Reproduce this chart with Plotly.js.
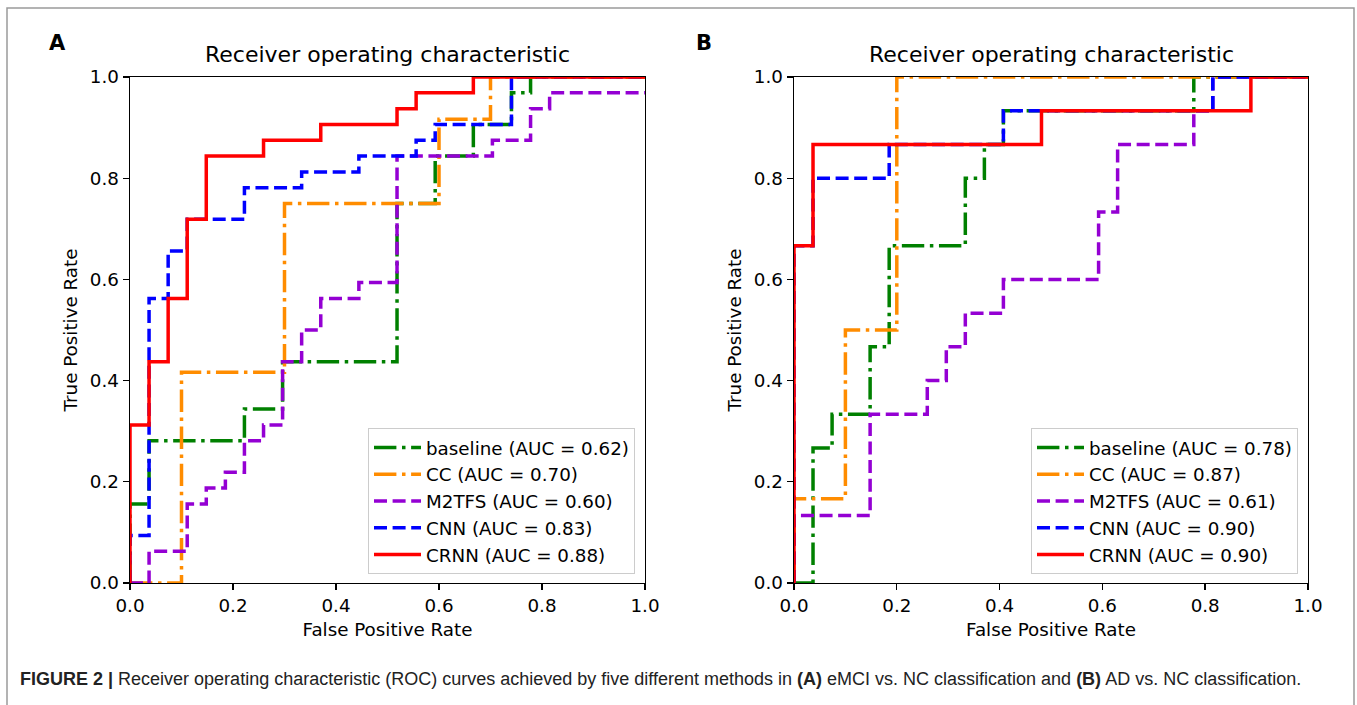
<!DOCTYPE html>
<html>
<head>
<meta charset="utf-8">
<script src="https://cdn.plot.ly/plotly-3.0.1.min.js"></script>
<style>
  html, body { margin: 0; padding: 0; background: #ffffff; }
  #fig { width: 1357px; height: 705px; }
</style>
</head>
<body>
<div id="fig"></div>
<script>
// ROC operating points (false positive rate, true positive rate), panel A: eMCI vs. NC
const baselineA_fpr = [0, 0, 0.037, 0.037, 0.2222, 0.2222, 0.2963, 0.2963, 0.5185, 0.5185, 0.5926, 0.5926, 0.6667, 0.6667, 0.7407, 0.7407, 0.7778, 0.7778, 1];
const baselineA_tpr = [0, 0.1563, 0.1563, 0.2813, 0.2813, 0.3438, 0.3438, 0.4375, 0.4375, 0.75, 0.75, 0.8438, 0.8438, 0.9063, 0.9063, 0.9688, 0.9688, 1, 1];
const ccA_fpr = [0, 0.1, 0.1, 0.3, 0.3, 0.6, 0.6, 0.7, 0.7, 1];
const ccA_tpr = [0, 0, 0.4167, 0.4167, 0.75, 0.75, 0.9167, 0.9167, 1, 1];
const m2tfsA_fpr = [0, 0.037, 0.037, 0.1111, 0.1111, 0.1481, 0.1481, 0.1852, 0.1852, 0.2222, 0.2222, 0.2593, 0.2593, 0.2963, 0.2963, 0.3333, 0.3333, 0.3704, 0.3704, 0.4444, 0.4444, 0.5185, 0.5185, 0.7037, 0.7037, 0.7778, 0.7778, 0.8148, 0.8148, 1];
const m2tfsA_tpr = [0, 0, 0.0625, 0.0625, 0.1563, 0.1563, 0.1875, 0.1875, 0.2188, 0.2188, 0.2813, 0.2813, 0.3125, 0.3125, 0.4375, 0.4375, 0.5, 0.5, 0.5625, 0.5625, 0.5938, 0.5938, 0.8438, 0.8438, 0.875, 0.875, 0.9375, 0.9375, 0.9688, 0.9688];
const cnnA_fpr = [0, 0, 0.037, 0.037, 0.0741, 0.0741, 0.1111, 0.1111, 0.2222, 0.2222, 0.3333, 0.3333, 0.4444, 0.4444, 0.5556, 0.5556, 0.5926, 0.5926, 0.7407, 0.7407, 1];
const cnnA_tpr = [0, 0.0938, 0.0938, 0.5625, 0.5625, 0.6563, 0.6563, 0.7188, 0.7188, 0.7813, 0.7813, 0.8125, 0.8125, 0.8438, 0.8438, 0.875, 0.875, 0.9063, 0.9063, 1, 1];
const crnnA_fpr = [0, 0, 0.037, 0.037, 0.0741, 0.0741, 0.1111, 0.1111, 0.1481, 0.1481, 0.2593, 0.2593, 0.3704, 0.3704, 0.5185, 0.5185, 0.5556, 0.5556, 0.6667, 0.6667, 1];
const crnnA_tpr = [0, 0.3125, 0.3125, 0.4375, 0.4375, 0.5625, 0.5625, 0.7188, 0.7188, 0.8438, 0.8438, 0.875, 0.875, 0.9063, 0.9063, 0.9375, 0.9375, 0.9688, 0.9688, 1, 1];

// Panel B: AD vs. NC
const baselineB_fpr = [0, 0.037, 0.037, 0.0741, 0.0741, 0.1481, 0.1481, 0.1852, 0.1852, 0.3333, 0.3333, 0.3704, 0.3704, 0.4074, 0.4074, 0.7778, 0.7778, 1];
const baselineB_tpr = [0, 0, 0.2667, 0.2667, 0.3333, 0.3333, 0.4667, 0.4667, 0.6667, 0.6667, 0.8, 0.8, 0.8667, 0.8667, 0.9333, 0.9333, 1, 1];
const ccB_fpr = [0, 0, 0.1, 0.1, 0.2, 0.2, 1];
const ccB_tpr = [0, 0.1667, 0.1667, 0.5, 0.5, 1, 1];
const m2tfsB_fpr = [0, 0, 0.1481, 0.1481, 0.2593, 0.2593, 0.2963, 0.2963, 0.3333, 0.3333, 0.4074, 0.4074, 0.5926, 0.5926, 0.6296, 0.6296, 0.7778, 0.7778, 0.8148, 0.8148, 1];
const m2tfsB_tpr = [0, 0.1333, 0.1333, 0.3333, 0.3333, 0.4, 0.4, 0.4667, 0.4667, 0.5333, 0.5333, 0.6, 0.6, 0.7333, 0.7333, 0.8667, 0.8667, 0.9333, 0.9333, 1, 1];
const cnnB_fpr = [0, 0, 0.037, 0.037, 0.1852, 0.1852, 0.4074, 0.4074, 0.8148, 0.8148, 1];
const cnnB_tpr = [0, 0.6667, 0.6667, 0.8, 0.8, 0.8667, 0.8667, 0.9333, 0.9333, 1, 1];
const crnnB_fpr = [0, 0, 0.037, 0.037, 0.4815, 0.4815, 0.8889, 0.8889, 1];
const crnnB_tpr = [0, 0.6667, 0.6667, 0.8667, 0.8667, 0.9333, 0.9333, 1, 1];

// Legend labels
const methodNames = ['baseline', 'CC', 'M2TFS', 'CNN', 'CRNN'];
const aucA = ['0.62', '0.70', '0.60', '0.83', '0.88'];
const aucB = ['0.78', '0.87', '0.61', '0.90', '0.90'];
const tickVals = [0, 0.2, 0.4, 0.6, 0.8, 1.0];
const tickText = ['0.0', '0.2', '0.4', '0.6', '0.8', '1.0'];

// Line styles per method
const DASHDOT = '22.4px,5.6px,3.5px,5.6px';
const DASHED = '13px,5.6px';
const styles = [
  { color: 'green', dash: DASHDOT },
  { color: 'darkorange', dash: DASHDOT },
  { color: 'darkviolet', dash: DASHED },
  { color: 'blue', dash: DASHED },
  { color: 'red', dash: 'solid' }
];

const W = 1357, H = 705;
const px = v => v / W;
const py = v => 1 - v / H;
const FONT = 'DejaVu Sans, Verdana, sans-serif';
const FS = 18.3;

const seriesA = [[baselineA_fpr, baselineA_tpr], [ccA_fpr, ccA_tpr], [m2tfsA_fpr, m2tfsA_tpr], [cnnA_fpr, cnnA_tpr], [crnnA_fpr, crnnA_tpr]];
const seriesB = [[baselineB_fpr, baselineB_tpr], [ccB_fpr, ccB_tpr], [m2tfsB_fpr, m2tfsB_tpr], [cnnB_fpr, cnnB_tpr], [crnnB_fpr, crnnB_tpr]];

const traces = [];
function addPanel(series, aucs, xa, ya, legendId) {
  series.forEach((s, i) => {
    traces.push({
      type: 'scatter', mode: 'lines',
      x: s[0], y: s[1], xaxis: xa, yaxis: ya,
      name: methodNames[i] + ' (AUC = ' + aucs[i] + ')',
      legend: legendId,
      line: { color: styles[i].color, dash: styles[i].dash, width: 3.5, shape: 'linear' },
      hoverinfo: 'skip'
    });
  });
}
addPanel(seriesA, aucA, 'x', 'y', 'legend');
addPanel(seriesB, aucB, 'x2', 'y2', 'legend2');

function axisX(domain, anchor) {
  return {
    domain: domain, anchor: anchor, range: [0, 1],
    tickvals: tickVals, ticktext: tickText,
    ticks: 'outside', ticklen: 6, tickwidth: 1.4, tickcolor: '#000',
    showline: true, linecolor: '#000', linewidth: 1.4, mirror: true,
    showgrid: false, zeroline: false,
    tickfont: { family: FONT, size: FS, color: '#000' },
    title: { text: 'False Positive Rate', font: { family: FONT, size: FS, color: '#000' }, standoff: 8 },
    fixedrange: true
  };
}
function axisY(domain, anchor) {
  return {
    domain: domain, anchor: anchor, range: [0, 1],
    tickvals: tickVals, ticktext: tickText,
    ticks: 'outside', ticklen: 6, tickwidth: 1.4, tickcolor: '#000',
    showline: true, linecolor: '#000', linewidth: 1.4, mirror: true,
    showgrid: false, zeroline: false,
    tickfont: { family: FONT, size: FS, color: '#000' },
    title: { text: 'True Positive Rate', font: { family: FONT, size: FS, color: '#000' }, standoff: 7 },
    fixedrange: true
  };
}

const yDom = [py(583), py(77)];
const legendStyle = (xr) => ({
  x: px(xr), xanchor: 'right', y: py(574), yanchor: 'bottom',
  bgcolor: 'rgba(255,255,255,0.8)', bordercolor: '#cccccc', borderwidth: 1,
  font: { family: FONT, size: FS, color: '#000' },
  tracegroupgap: 0, itemwidth: 47
});

const layout = {
  width: W, height: H,
  margin: { l: 0, r: 0, t: 0, b: 0 },
  paper_bgcolor: '#ffffff', plot_bgcolor: '#ffffff',
  showlegend: true,
  xaxis: axisX([px(130), px(645)], 'y'),
  yaxis: axisY(yDom, 'x'),
  xaxis2: axisX([px(794), px(1308)], 'y2'),
  yaxis2: axisY(yDom, 'x2'),
  legend: legendStyle(635),
  legend2: legendStyle(1298),
  shapes: [
    { type: 'path', xref: 'paper', yref: 'paper', layer: 'below',
      path: 'M ' + px(7) + ' -0.1 L ' + px(7) + ' ' + py(8) + ' L ' + px(1354) + ' ' + py(8) + ' L ' + px(1354) + ' -0.1',
      line: { color: '#9a9a9a', width: 1.5 } }
  ],
  annotations: [
    { text: 'Receiver operating characteristic', xref: 'paper', yref: 'paper',
      x: px(387.5), y: py(54), xanchor: 'center', yanchor: 'middle', showarrow: false,
      font: { family: FONT, size: 22, color: '#000' } },
    { text: 'Receiver operating characteristic', xref: 'paper', yref: 'paper',
      x: px(1051), y: py(54), xanchor: 'center', yanchor: 'middle', showarrow: false,
      font: { family: FONT, size: 22, color: '#000' } },
    { text: '<b>A</b>', xref: 'paper', yref: 'paper',
      x: px(57), y: py(43), xanchor: 'center', yanchor: 'middle', showarrow: false,
      font: { family: FONT, size: 21, color: '#000' } },
    { text: '<b>B</b>', xref: 'paper', yref: 'paper',
      x: px(704), y: py(43), xanchor: 'center', yanchor: 'middle', showarrow: false,
      font: { family: FONT, size: 21, color: '#000' } },
    { text: '<b>FIGURE 2 |</b> Receiver operating characteristic (ROC) curves achieved by five different methods in <b>(A)</b> eMCI vs. NC classification and <b>(B)</b> AD vs. NC classification.',
      xref: 'paper', yref: 'paper', x: px(18), y: py(679), xanchor: 'left', yanchor: 'middle', showarrow: false,
      font: { family: 'Liberation Sans, Arial, Helvetica, sans-serif', size: 18, color: '#222' } }
  ]
};

Plotly.newPlot('fig', traces, layout, { staticPlot: true, displayModeBar: false });
</script>
</body>
</html>
